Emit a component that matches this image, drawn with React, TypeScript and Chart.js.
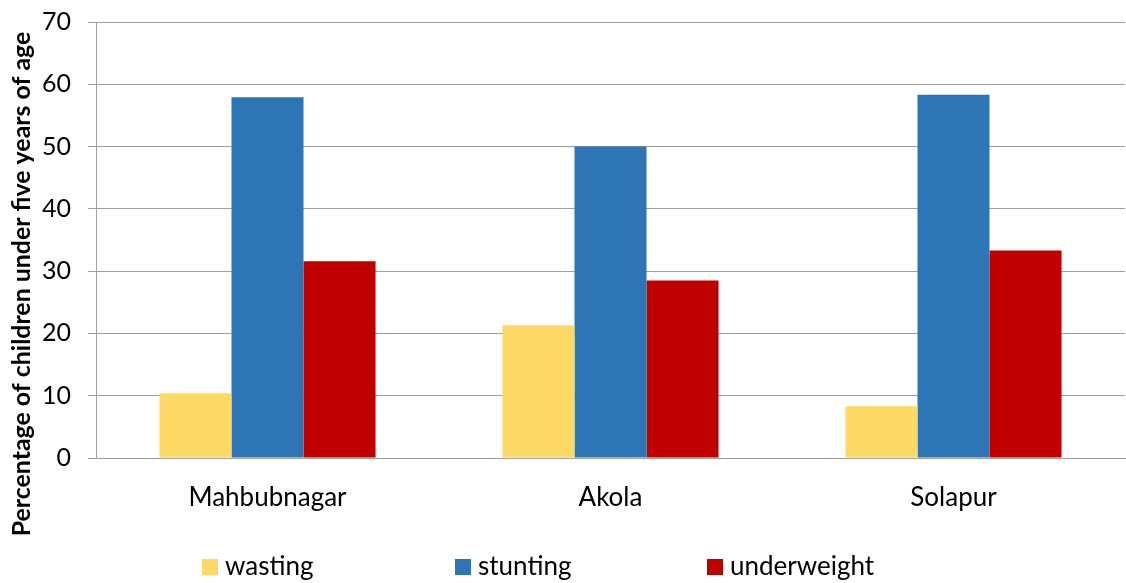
import React, { useEffect, useRef } from "react";
import { Chart, registerables } from "chart.js";

Chart.register(...registerables);

const categories = ["Mahbubnagar", "Akola", "Solapur"];
const wasting = [10.4, 21.3, 8.3];
const stunting = [57.9, 50.0, 58.3];
const underweight = [31.6, 28.5, 33.3];
const seriesNames = ["wasting", "stunting", "underweight"];
const seriesColors = ["#FFD966", "#2E75B6", "#C00000"];
const yTitle = "Percentage of children under five years of age";

const FONT = "Lato, 'Open Sans', sans-serif";

const customPlugin = {
  id: "customDecor",
  afterDraw(chart: any) {
    const ctx = chart.ctx;
    ctx.save();
    // y-axis title, sized to span the same length as the reference
    ctx.font = `bold 20px ${FONT}`;
    const w = ctx.measureText(yTitle).width;
    const size = Math.min(26, (20 * 505) / w);
    ctx.translate(22, 284);
    ctx.rotate(-Math.PI / 2);
    ctx.font = `bold ${size.toFixed(1)}px ${FONT}`;
    ctx.fillStyle = "#000";
    ctx.textAlign = "center";
    ctx.textBaseline = "middle";
    ctx.fillText(yTitle, 0, 0);
    ctx.restore();

    // legend
    ctx.save();
    const starts = [202, 455, 707];
    ctx.font = `26px ${FONT}`;
    ctx.textBaseline = "middle";
    ctx.textAlign = "left";
    chart.data.datasets.forEach((ds: any, i: number) => {
      const x = starts[i];
      const y = 567;
      ctx.fillStyle = ds.backgroundColor;
      ctx.fillRect(x, y - 8, 16, 16);
      ctx.fillStyle = "#000";
      ctx.fillText(ds.label, x + 23, y);
    });
    ctx.restore();
  },
};

export default function App() {
  const ref = useRef<HTMLCanvasElement | null>(null);
  useEffect(() => {
    document.body.style.margin = "0";
    const chart = new Chart(ref.current!, {
      type: "bar",
      data: {
        labels: categories,
        datasets: [wasting, stunting, underweight].map((d, i) => ({
          label: seriesNames[i],
          data: d,
          backgroundColor: seriesColors[i],
          borderWidth: 0,
          categoryPercentage: 0.63,
          barPercentage: 1.0,
        })),
      },
      options: {
        animation: false,
        responsive: false,
        maintainAspectRatio: false,
        layout: { padding: { top: 22, right: 1, left: 0, bottom: 0 } },
        plugins: {
          legend: { display: false },
          tooltip: { enabled: false },
          title: { display: false },
        },
        scales: {
          x: {
            grid: { display: false, drawTicks: false },
            border: { display: true, color: "#a0a0a0", width: 1 },
            ticks: {
              font: { family: FONT, size: 26 },
              color: "#000",
              padding: 24,
            },
            afterFit(scale: any) {
              scale.height = 125;
              scale.paddingLeft = 0;
              scale.paddingRight = 0;
            },
          },
          y: {
            min: 0,
            max: 70,
            ticks: {
              stepSize: 10,
              font: { family: FONT, size: 25 },
              color: "#000",
              padding: 17,
            },
            grid: {
              color: "#a0a0a0",
              lineWidth: 1,
              tickLength: 8,
              drawTicks: true,
            },
            border: { display: true, color: "#a0a0a0", width: 1 },
            afterFit(scale: any) {
              scale.width = 96;
              scale.paddingTop = 0;
              scale.paddingBottom = 0;
            },
          },
        },
      },
      plugins: [customPlugin],
    });
    return () => chart.destroy();
  }, []);
  return (
    <div style={{ width: 1126, height: 583 }}>
      <canvas ref={ref} width={1126} height={583} style={{ display: "block" }} />
    </div>
  );
}
